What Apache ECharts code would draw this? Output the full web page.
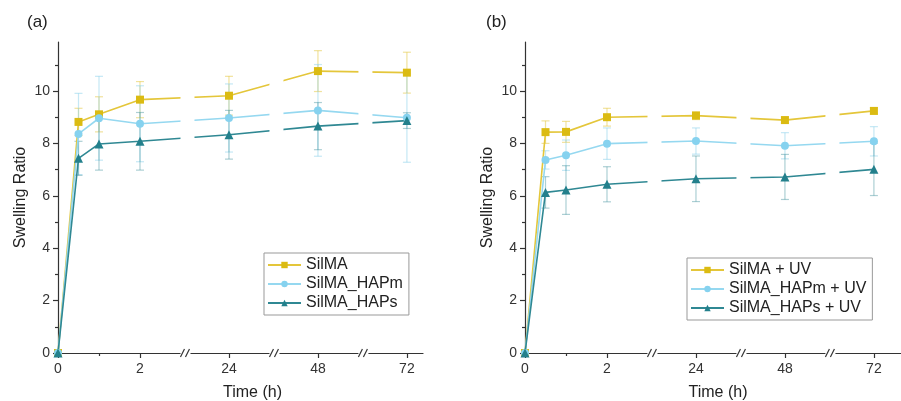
<!DOCTYPE html>
<html><head><meta charset="utf-8">
<script src="https://cdn.jsdelivr.net/npm/echarts@6/dist/echarts.min.js"></script>
<style>html,body{margin:0;padding:0;background:#fff}#c{width:901px;height:401px}</style>
</head><body><div id="c"></div>
<script>
// ---- data ----
const timeHours = [0, 0.5, 1, 2, 24, 48, 72];
const xTickHours = [0, 2, 24, 48, 72];
const xMinorTickHours = [1];
const yTicks = [0, 2, 4, 6, 8, 10];
const yMinorTicks = [1, 3, 5, 7, 9, 11];
const namesA = ['SilMA', 'SilMA_HAPm', 'SilMA_HAPs'];
const namesB = ['SilMA + UV', 'SilMA_HAPm + UV', 'SilMA_HAPs + UV'];

const silmaA     = [0, 8.82, 9.11, 9.67, 9.82, 10.76, 10.70];
const silmaAErr  = [0, 0.52, 0.67, 0.69, 0.74, 0.78, 0.78];
const hapmA      = [0, 8.36, 8.96, 8.75, 8.97, 9.26, 8.98];
const hapmAErr   = [0, 1.55, 1.60, 1.45, 1.30, 1.75, 1.70];
const hapsA      = [0, 7.43, 7.98, 8.08, 8.33, 8.66, 8.87];
const hapsAErr   = [0, 0.65, 1.00, 1.10, 0.93, 0.90, 0.30];

const silmaB     = [0, 8.43, 8.44, 9.00, 9.06, 8.89, 9.24];
const silmaBErr  = [0, 0.43, 0.40, 0.34, 0.15, 0.12, 0.12];
const hapmB      = [0, 7.37, 7.55, 7.99, 8.09, 7.91, 8.08];
const hapmBErr   = [0, 0.35, 0.58, 0.60, 0.50, 0.50, 0.56];
const hapsB      = [0, 6.13, 6.22, 6.44, 6.65, 6.72, 7.01];
const hapsBErr   = [0, 0.60, 0.93, 0.67, 0.87, 0.86, 1.00];

// ---- broken time axis scale (0-2 h linear, then equal segments per 24 h) ----
const SEG0_END = 2, SEG1_POS = 4.17, SEG_STEP = 2.17;
function toDisp(h) { return h <= SEG0_END ? h : SEG1_POS + (h - 24) / 24 * SEG_STEP; }
const breakDisp = [(SEG0_END + SEG1_POS) / 2, SEG1_POS + SEG_STEP / 2, SEG1_POS + SEG_STEP * 1.5];
function labelFor(v) {
  for (const h of xTickHours) if (Math.abs(toDisp(h) - v) < 1e-6) return String(h);
  return '';
}

const colors = {
  line: ['#e4c63a', '#95d8f0', '#2f8893'],
  mark: ['#dbbb12', '#86d2ef', '#23808c'],
  err:  ['rgba(228,198,58,0.5)', 'rgba(140,210,236,0.5)', 'rgba(47,136,147,0.4)']
};
const symbols = ['rect', 'circle', 'triangle'];
const symSizes = [8, 8, 9];
const FONT = 'Liberation Sans, Arial, sans-serif';

const grids = [
  { left: 58, top: 42, width: 365, height: 311, outerBoundsMode: 'none', containLabel: false },
  { left: 525, top: 42, width: 376, height: 311, outerBoundsMode: 'none', containLabel: false }
];
const xMax = [365 / 41, 376 / 41];
const yMax = 311 / 26.2;

const xAxes = [], yAxes = [];
grids.forEach((g, i) => {
  xAxes.push({
    type: 'value', gridIndex: i, min: 0, max: xMax[i], position: 'bottom',
    axisLine: { lineStyle: { color: '#333', width: 1.2 } },
    axisTick: { customValues: xTickHours.map(toDisp), length: 5, lineStyle: { color: '#333', width: 1.2 } },
    axisLabel: { customValues: xTickHours.map(toDisp), formatter: labelFor, color: '#333', fontSize: 14, fontFamily: FONT, margin: 9 },
    splitLine: { show: false },
    name: 'Time (h)', nameLocation: 'middle', nameGap: 32,
    nameTextStyle: { fontSize: 16, color: '#222', fontFamily: FONT, padding: i === 0 ? [0, 0, 0, 24] : [0, 0, 0, 10] }
  });
  xAxes.push({
    type: 'value', gridIndex: i, min: 0, max: xMax[i], position: 'bottom', offset: 0,
    axisLine: { show: false },
    axisTick: { customValues: xMinorTickHours.map(toDisp), length: 3, lineStyle: { color: '#333', width: 1.2 } },
    axisLabel: { show: false }, splitLine: { show: false }
  });
  yAxes.push({
    type: 'value', gridIndex: i, min: 0, max: yMax, position: 'left',
    axisLine: { show: true, lineStyle: { color: '#333', width: 1.2 } },
    axisTick: { show: true, customValues: yTicks, length: 5, lineStyle: { color: '#333', width: 1.2 } },
    axisLabel: { customValues: yTicks, color: '#333', fontSize: 14, fontFamily: FONT, margin: 8 },
    splitLine: { show: false },
    name: 'Swelling Ratio', nameLocation: 'middle', nameGap: 29,
    nameTextStyle: { fontSize: 16, color: '#222', fontFamily: FONT }
  });
  yAxes.push({
    type: 'value', gridIndex: i, min: 0, max: yMax, position: 'left', offset: 0,
    axisLine: { show: false },
    axisTick: { show: true, customValues: yMinorTicks, length: 3, lineStyle: { color: '#333', width: 1.2 } },
    axisLabel: { show: false }, splitLine: { show: false }
  });
});

const panels = [
  { names: namesA, vals: [silmaA, hapmA, hapsA], errs: [silmaAErr, hapmAErr, hapsAErr] },
  { names: namesB, vals: [silmaB, hapmB, hapsB], errs: [silmaBErr, hapmBErr, hapsBErr] }
];

const series = [];
panels.forEach((p, gi) => {
  p.vals.forEach((vals, si) => {
    series.push({
      type: 'custom', name: p.names[si] + ' err', xAxisIndex: gi * 2, yAxisIndex: gi * 2, z: 1,
      silent: true, legendHoverLink: false,
      data: timeHours.map((h, k) => [toDisp(h), vals[k], p.errs[si][k]]),
      renderItem: function (params, api) {
        const x = api.value(0), y = api.value(1), e = api.value(2);
        if (!e) return null;
        const top = api.coord([x, y + e]), bot = api.coord([x, y - e]);
        const st = { stroke: colors.err[si], lineWidth: 1.2 };
        return { type: 'group', children: [
          { type: 'line', shape: { x1: top[0], y1: top[1], x2: bot[0], y2: bot[1] }, style: st },
          { type: 'line', shape: { x1: top[0] - 4, y1: top[1], x2: top[0] + 4, y2: top[1] }, style: st },
          { type: 'line', shape: { x1: bot[0] - 4, y1: bot[1], x2: bot[0] + 4, y2: bot[1] }, style: st }
        ]};
      }
    });
  });
  p.vals.forEach((vals, si) => {
    series.push({
      type: 'line', name: p.names[si], xAxisIndex: gi * 2, yAxisIndex: gi * 2, z: 3,
      data: timeHours.map((h, k) => [toDisp(h), vals[k]]),
      symbol: symbols[si], symbolSize: symSizes[si], showSymbol: true,
      lineStyle: { color: colors.line[si], width: 1.6 },
      itemStyle: { color: colors.mark[si] },
      emphasis: { disabled: true }, animation: false
    });
  });
  // axis-break masks and "//" marks
  series.push({
    type: 'custom', name: 'breaks' + gi, xAxisIndex: gi * 2, yAxisIndex: gi * 2, z: 6,
    silent: true, clip: false,
    data: breakDisp.map(b => [b]),
    renderItem: function (params, api) {
      const b = api.value(0);
      const base = api.coord([b, 0]);
      const topY = api.coord([b, yMax])[1];
      const px = base[0], ay = base[1];
      const ink = { stroke: '#333', lineWidth: 1.2 };
      return { type: 'group', children: [
        { type: 'rect', shape: { x: px - 4, y: topY, width: 14, height: ay - topY - 3 }, style: { fill: '#fff' } },
        { type: 'rect', shape: { x: px - 4, y: ay - 3, width: 10, height: 6 }, style: { fill: '#fff' } },
        { type: 'line', shape: { x1: px - 4, y1: ay + 4, x2: px, y2: ay - 4 }, style: ink },
        { type: 'line', shape: { x1: px + 1, y1: ay + 4, x2: px + 5, y2: ay - 4 }, style: ink }
      ]};
    }
  });
});

const legendBase = {
  orient: 'vertical', itemWidth: 33, itemHeight: 8, itemGap: 3,
  textStyle: { fontSize: 16, color: '#222', fontFamily: FONT },
  borderColor: '#999', borderWidth: 1, padding: [4, 6, 4, 3], z: 10,
  backgroundColor: '#fff'
};

const chart = echarts.init(document.getElementById('c'), null, { renderer: 'canvas' });
chart.setOption({
  animation: false,
  backgroundColor: '#fff',
  grid: grids,
  xAxis: xAxes,
  yAxis: yAxes,
  legend: [
    Object.assign({}, legendBase, { data: namesA, left: 264, top: 253 }),
    Object.assign({}, legendBase, { data: namesB, left: 687, top: 258 })
  ],
  graphic: [
    { type: 'text', left: 27, top: 14, style: { text: '(a)', fontSize: 17, fill: '#222', fontFamily: FONT } },
    { type: 'text', left: 486, top: 14, style: { text: '(b)', fontSize: 17, fill: '#222', fontFamily: FONT } }
  ],
  series: series
});
</script>
</body></html>
